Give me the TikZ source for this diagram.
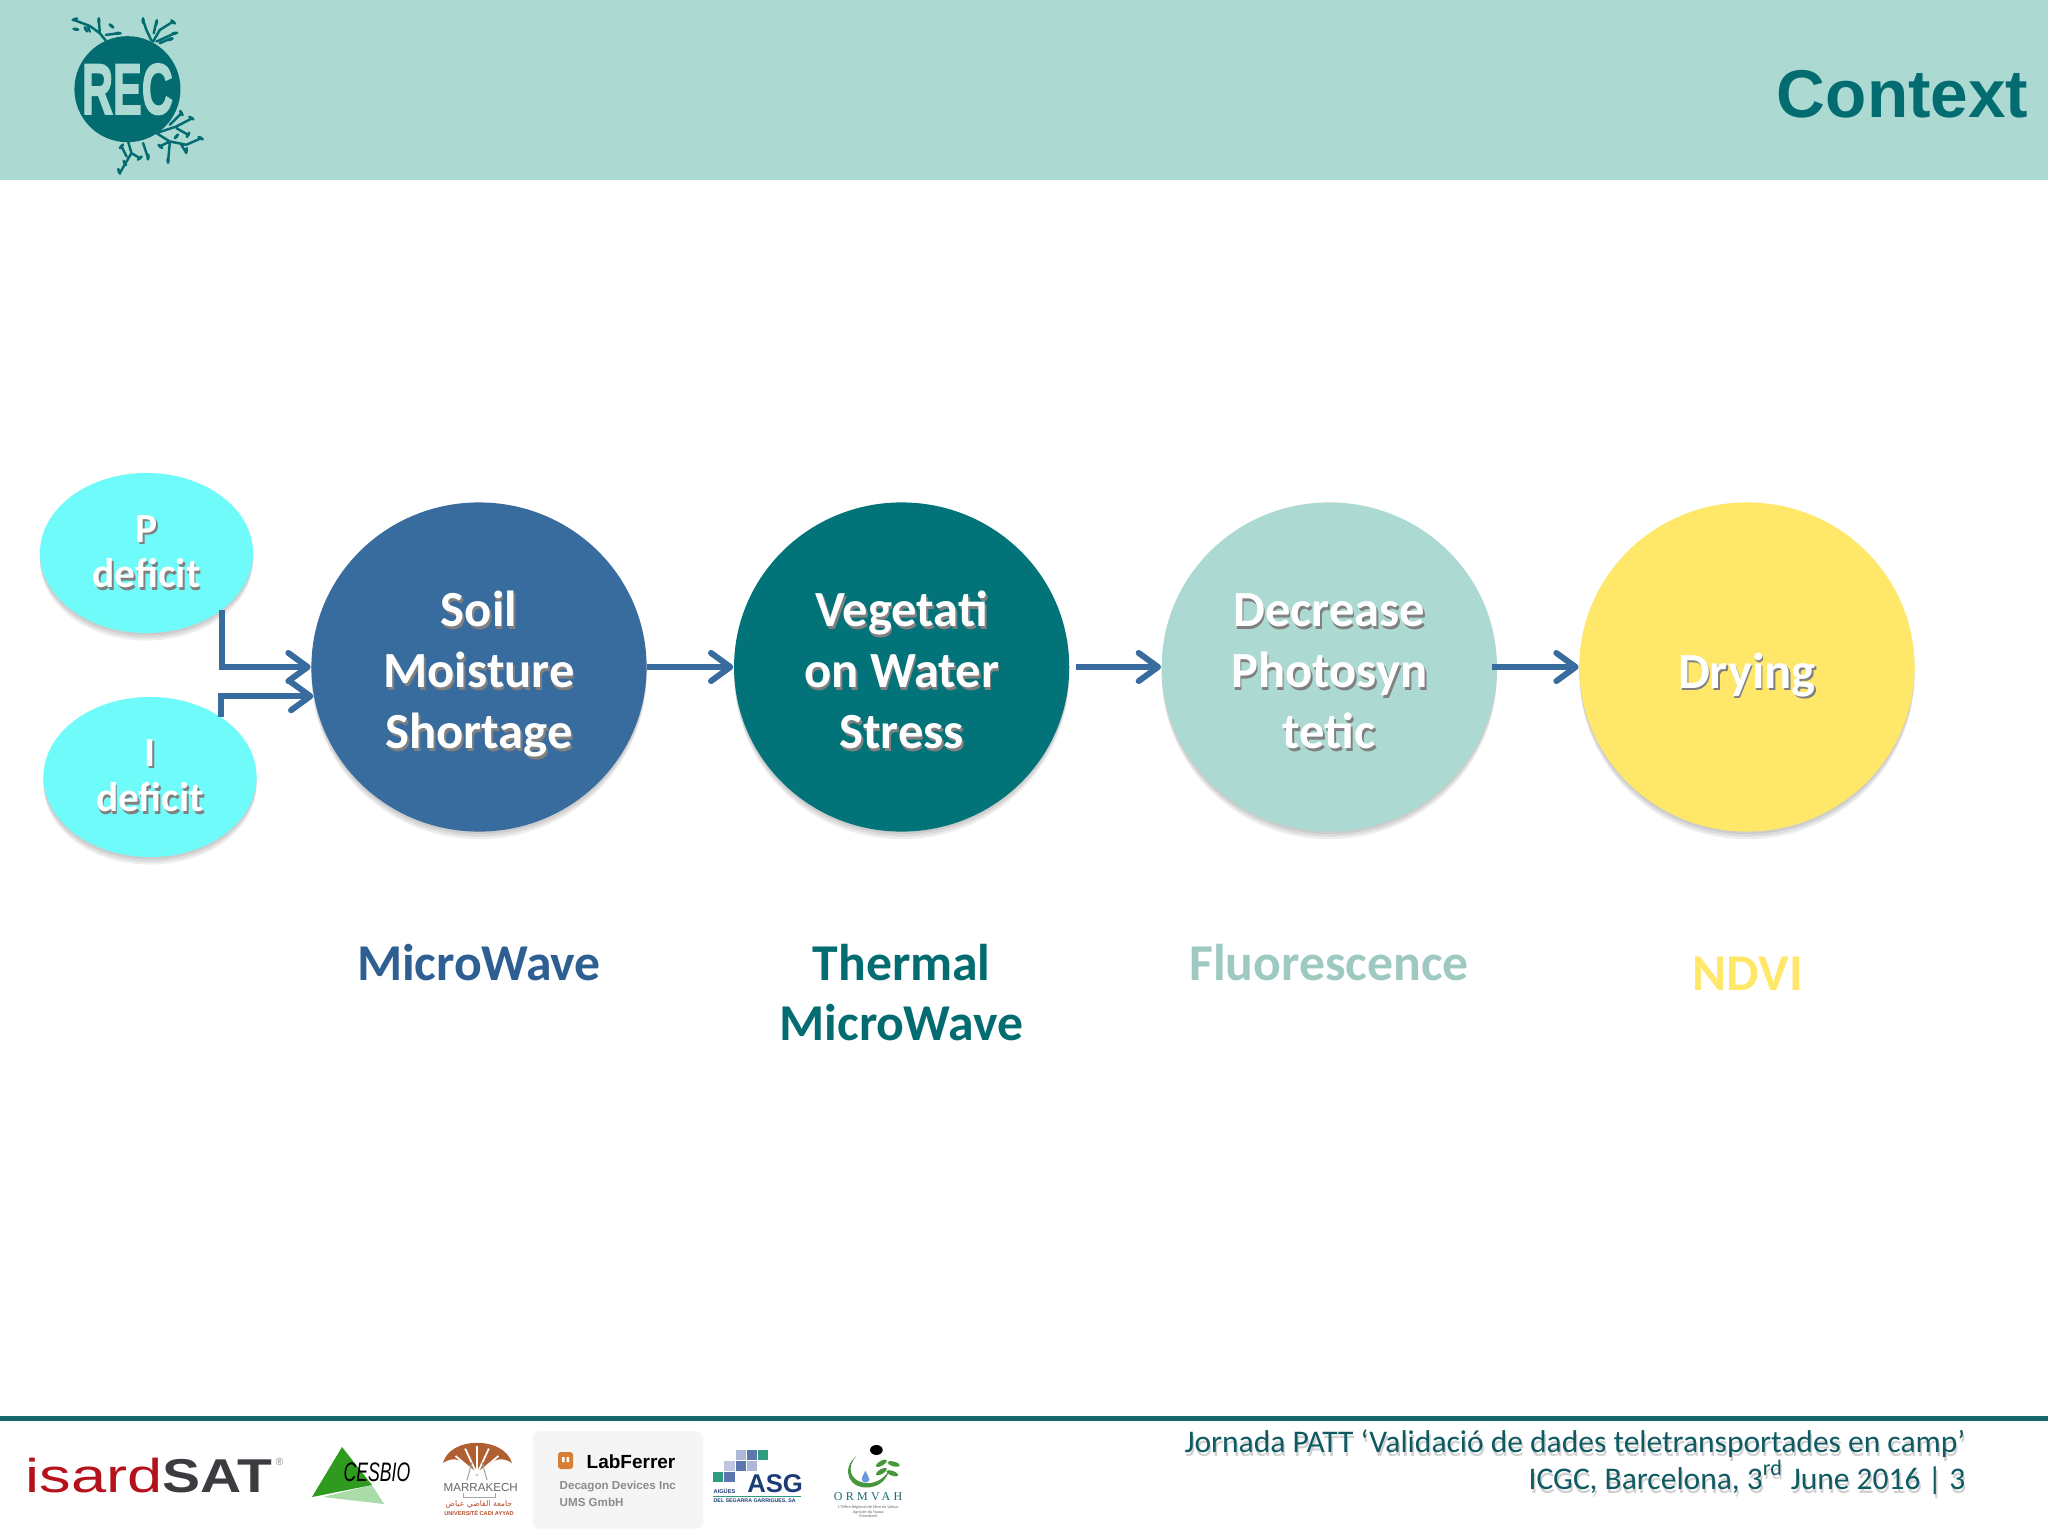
\documentclass[tikz,border=0pt]{standalone}
\usepackage{fontspec}
\setmainfont{Carlito}
\newfontfamily\arialfont{Liberation Sans}
\newfontfamily\heavyfont[FakeBold=2.5]{Liberation Sans Bold}
\newfontfamily\serifspaced[LetterSpace=28]{Liberation Serif}
\newfontfamily\arabicfont[Script=Arabic]{DejaVu Sans}
\TeXXeTstate=1
\usetikzlibrary{arrows.meta,positioning,shapes.geometric,shadows}
\definecolor{bannerteal}{RGB}{172,218,210}
\definecolor{deepteal}{RGB}{3,108,113}
\definecolor{soilblue}{RGB}{57,108,158}
\definecolor{wavegreen}{RGB}{3,115,122}
\definecolor{sunyellow}{RGB}{255,231,105}
\definecolor{deficitcyan}{RGB}{111,251,250}
\definecolor{mwblue}{RGB}{46,95,146}
\definecolor{footink}{RGB}{15,90,98}
\definecolor{ruleteal}{RGB}{23,104,110}
\definecolor{isardred}{RGB}{181,18,27}
\definecolor{isardgrey}{RGB}{60,60,64}
\definecolor{cesgreen}{RGB}{46,154,30}
\definecolor{cesleaf}{RGB}{170,220,170}
\definecolor{marbrown}{RGB}{176,96,48}
\definecolor{marred}{RGB}{181,80,44}
\definecolor{labbox}{RGB}{245,245,245}
\definecolor{laborange}{RGB}{217,127,53}
\definecolor{asgnavy}{RGB}{28,60,120}
\definecolor{asgpale}{RGB}{174,184,216}
\definecolor{asgblue}{RGB}{92,118,174}
\definecolor{asgteal}{RGB}{47,156,128}
\definecolor{ormgreen}{RGB}{70,150,60}
\newcommand{\softtext}[1]{\leavevmode\rlap{\raisebox{-.7pt}{\kern.5pt\textcolor{black!50}{#1}}}#1}
\newcommand{\leadtext}[1]{\rule{0pt}{15.3pt}\softtext{#1}}
\newcommand{\tailtext}[1]{\rule[-3.5pt]{0pt}{3.5pt}\softtext{#1}}
\newcommand{\footshade}[1]{\leavevmode\rlap{\raisebox{-1.1pt}{\kern.4pt\textcolor{black!18}{#1}}}#1}
\newcommand{\pxfont}[2]{\fontsize{#1}{#2}\selectfont}
\tikzset{
  softdrop/.style={
    general shadow={fill=black,opacity=.07,shadow yshift=-.025cm},
    general shadow={fill=black,opacity=.07,shadow yshift=-.05cm},
    general shadow={fill=black,opacity=.07,shadow yshift=-.075cm}},
  stagenode/.style={ellipse,inner sep=0pt,minimum width=3.35cm,minimum height=3.29cm,softdrop,
    align=center,text=white,font=\pxfont{14.4}{17.3}\bfseries},
  inputnode/.style={ellipse,inner sep=0pt,minimum width=2.13cm,minimum height=1.6cm,fill=deficitcyan,softdrop,
    align=center,text=white,font=\pxfont{11.8}{12.9}\bfseries},
  sensorlabel/.style={align=center,inner sep=0pt,font=\pxfont{14.7}{17.2}\bfseries},
  logotext/.style={inner sep=0pt,anchor=base west},
  arr/.style={-{Straight Barb[length=5.5pt,width=8pt,round]},line width=1.7pt,color=soilblue}
}
\begin{document}
\begin{tikzpicture}[x=0.01cm,y=-0.01cm]
  \useasboundingbox (0,0) rectangle (2048,1536);
  \fill[white] (0,0) rectangle (2048,1536);
  \fill[bannerteal] (0,0) rectangle (2048,180);
  \fill[ruleteal] (0,1416) rectangle (2048,1421);

  % logo, in coordinates of a 3x crop
  \begin{scope}[x=0.003333cm,y=-0.003333cm]
    \node[circle,fill=deepteal,minimum size=1.06cm,inner sep=0pt] (recdisc) at (383,268)
      {\color{bannerteal}\heavyfont\pxfont{20.4}{20}\scalebox{.6}[1]{REC}};
    \draw[deepteal,line width=.7pt,line cap=round,line join=round]
      (222,60)--(270,78)--(300,100)--(318,122) (262,75)--(270,95) (300,100)--(297,60) (318,105)--(355,100)
      (455,122)--(440,90)--(430,60) (460,125)--(480,90)--(520,65) (470,125)--(525,100) (480,130)--(515,115) (462,100)--(470,65)
      (470,400)--(530,380)--(578,355) (510,375)--(545,340) (530,385)--(565,405)
      (470,400)--(510,425)--(560,435)--(605,415) (510,425)--(480,440) (510,430)--(505,485) (545,435)--(560,460)
      (385,425)--(395,460)--(360,520) (395,460)--(420,475) (380,470)--(365,440) (430,430)--(445,475);
    \foreach \x/\y/\a in {225/58/20,228/88/-10,297/62/90,258/88/-60,355/100/0,335/78/-40,430/62/90,470/68/80,520/66/-40,
        525/100/10,512/118/20,575/355/-30,545/340/-60,565/405/60,603/415/-30,560/452/80,505/482/90,482/440/-40,
        445/472/85,420/475/40,358/515/-70,365/440/50,375/490/-60,530/410/50}
      \fill[deepteal,rotate around={\a:(\x,\y)}] (\x,\y) ellipse (11 and 5);
  \end{scope}

  \node[anchor=base east,inner sep=0pt,text=deepteal,font=\arialfont\bfseries\pxfont{19.2}{20}] (title) at (2029,117) {Context};

  % main chain
  \node[stagenode,fill=soilblue] (soil) at (479,667) {\leadtext{Soil}\\\softtext{Moisture}\\\tailtext{Shortage}};
  \node[stagenode,fill=wavegreen,right=0.86cm of soil] (veg) {\leadtext{Vegetati}\\\softtext{on Water}\\\tailtext{Stress}};
  \node[stagenode,fill=bannerteal,right=0.91cm of veg] (photo) {\leadtext{Decrease}\\\softtext{Photosyn}\\\tailtext{tetic}};
  \node[stagenode,fill=sunyellow,right=0.81cm of photo] (dry) {\leadtext{Drying}};

  \node[inputnode] (pdef) at (146.5,553) {\softtext{P}\\\softtext{deficit}};
  \node[inputnode] (idef) at (150,777) {\softtext{I}\\\softtext{deficit}};

  \draw[arr] (pdef.south east) |- (soil.west);
  \draw[arr] ([xshift=-.045cm,yshift=.03cm]idef.north east) |- (soil.190);
  \draw[arr] (soil) -- (veg);
  \draw[arr,shorten <=.06cm] (veg) -- (photo);
  \draw[arr,shorten <=-.06cm] (photo) -- (dry);

  \node[sensorlabel,text=mwblue] (mw) at (479,963) {MicroWave};
  \node[sensorlabel,text=deepteal,below=1.11cm of veg] (tmw) {Thermal\\MicroWave};
  \node[sensorlabel,text=bannerteal!92!black] (fluo) at (1329,963) {Fluorescence};
  \node[sensorlabel,text=sunyellow] (ndvi) at (1748,974) {NDVI};

  % footer
  \node[anchor=east,inner sep=0pt,align=right,text=footink,font=\pxfont{8.96}{10.4}] (foot) at (1966,1464)
    {\footshade{Jornada PATT ‘Validació de dades teletransportades en camp’}\\
     \footshade{ICGC, Barcelona, 3\smash{\textsuperscript{rd}} June 2016 | 3}};

  % isardSAT
  \node[logotext,text=isardred,font=\arialfont\pxfont{13.5}{14}] (isard) at (25,1492) {\scalebox{1.33}[1]{isard}};
  \node[logotext,text=isardgrey,font=\arialfont\bfseries\pxfont{13.5}{14}] (sat) at (162,1492) {\scalebox{1.2}[1]{SAT}};
  \node[logotext,text=black!45,font=\arialfont\pxfont{3}{3}] (regmark) at (275,1465) {®};

  % CESBIO
  \fill[cesleaf] (323,1497) -- (384,1504) -- (372,1485) -- cycle;
  \fill[cesgreen] (342,1447) -- (312,1497) -- (372,1485) -- cycle;
  \node[logotext,font=\arialfont\itshape\pxfont{7.6}{8}] (cesbio) at (343,1481) {\scalebox{.66}[1]{CESBIO}};

  % Marrakech
  \fill[marbrown] (443,1463) .. controls (450,1436) and (504,1436) .. (512,1463)
    .. controls (502,1456) and (490,1458) .. (477,1476) .. controls (464,1458) and (453,1456) .. (443,1463) -- cycle;
  \foreach \a in {-50,-25,0,25,50}
    \draw[white,line width=.5pt] (477,1474) -- ++(\a-90:28);
  \draw[black!35,line width=.3pt] (467,1480) -- (472,1462) (487,1480) -- (482,1462);
  \node[logotext,text=black!60,font=\arialfont\pxfont{3.3}{4}] (marra) at (443,1491) {MARRAKECH};
  \draw[black!35,line width=.25pt] (463,1493) -- (463,1497) -- (495,1497) -- (495,1493);
  \node[inner sep=0pt,text=marred,font=\pxfont{2.2}{3}] (marab) at (479,1504) {\arabicfont\beginR جامعة القاضي عياض\endR};
  \node[inner sep=0pt,text=marred,font=\arialfont\bfseries\pxfont{1.6}{2}] (caddi) at (479,1513) {UNIVERSITÉ CADI AYYAD};

  % LabFerrer
  \fill[labbox,rounded corners=2pt] (533,1431) rectangle (703,1529);
  \fill[laborange,rounded corners=.8pt] (558,1452) rectangle (573,1469);
  \fill[white] (562,1457) rectangle (564.5,1462) (566.5,1457) rectangle (569,1462);
  \node[logotext,font=\arialfont\bfseries\pxfont{5.4}{6}] (lab) at (586,1468) {LabFerrer};
  \node[logotext,text=black!45,font=\arialfont\bfseries\pxfont{3.3}{4}] (decagon) at (559,1489) {Decagon Devices Inc};
  \node[logotext,text=black!45,font=\arialfont\bfseries\pxfont{3.3}{4}] (ums) at (559,1506) {UMS GmbH};

  % ASG, in coordinates of a 3x crop
  \begin{scope}[shift={(700,1430)},x=0.003333cm,y=-0.003333cm]
    \foreach \x/\y/\c in {107/60/asgpale,140/60/asgblue,174/60/asgteal,73/93/asgpale!80,107/93/asgblue,140/93/asgpale,39/127/asgteal,73/127/asgblue}
      \fill[\c] (\x,\y) rectangle ++(31,29);
    \fill[asgteal] (39,198) rectangle (302,201);
    \node[logotext,text=asgnavy,font=\arialfont\bfseries\pxfont{7.3}{8}] (asg) at (140,187) {ASG};
    \node[logotext,text=asgnavy,font=\arialfont\bfseries\pxfont{1.6}{2}] (aigues) at (39,190) {AIGÜES};
    \node[logotext,text=asgnavy,font=\arialfont\bfseries\pxfont{1.5}{2}] (segarra) at (39,218) {DEL SEGARRA GARRIGUES, SA};
  \end{scope}

  % ORMVAH, in coordinates of a 3x crop
  \begin{scope}[shift={(700,1430)},x=0.003333cm,y=-0.003333cm]
    \fill[black] (530,60) ellipse (19 and 15);
    \fill[ormgreen] (470,78) .. controls (420,120) and (450,180) .. (510,172) .. controls (540,168) and (560,150) .. (568,122)
      .. controls (550,150) and (520,165) .. (490,158) .. controls (450,150) and (440,110) .. (470,78) -- cycle;
    \foreach \x/\y/\a in {545/100/30,582/102/-15,545/125/30,578/130/-20}
      \fill[ormgreen,rotate around={\a:(\x,\y)}] (\x,\y) ellipse (19 and 7);
    \fill[cyan!50!blue!60] (497,122) .. controls (490,138) and (484,142) .. (486,150) .. controls (490,160) and (505,160) .. (509,150) .. controls (510,142) and (503,138) .. (497,122) -- cycle;
    \node[logotext,text=ruleteal,font=\serifspaced\pxfont{3.4}{4}] (ormvah) at (400,212) {ORMVAH};
    \node[inner sep=0pt,align=center,text=black!60,font=\pxfont{1.2}{1.4}] (office) at (506,245)
      {L'Office Régional de Mise en Valeur\\Agricole du Haouz\\Marrakech};
  \end{scope}
\end{tikzpicture}
\end{document}
